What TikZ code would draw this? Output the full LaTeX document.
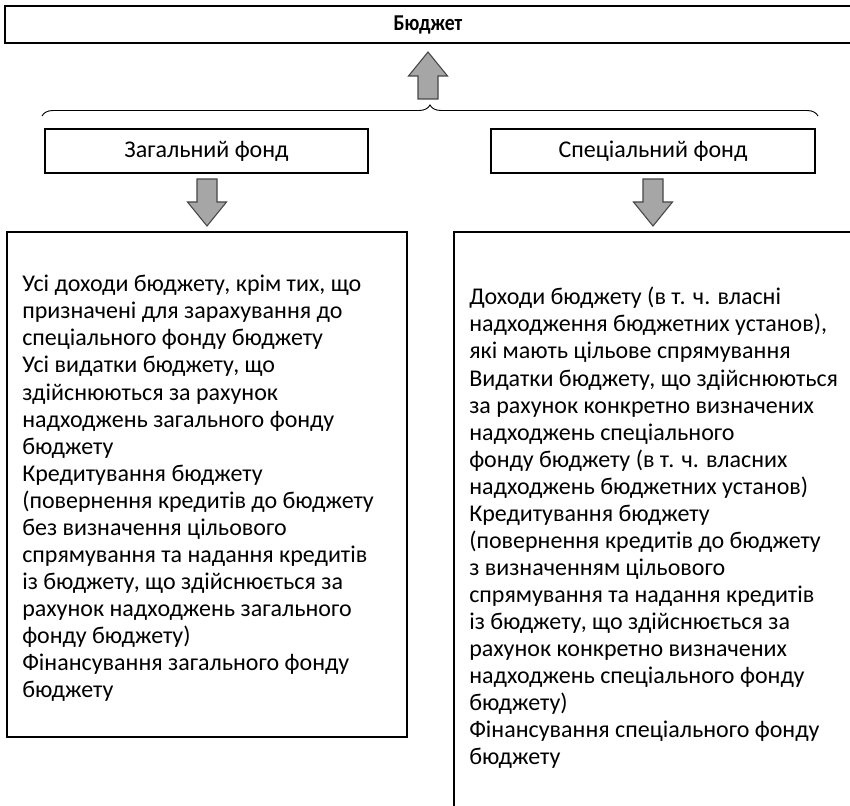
\documentclass[tikz,border=0pt]{standalone}
\usepackage{fontspec}
\setmainfont{Carlito}
\usetikzlibrary{decorations.pathreplacing}
\definecolor{arrowfill}{RGB}{166,166,166}
\definecolor{arrowline}{RGB}{70,70,70}
\begin{document}
\begin{tikzpicture}[x=0.75pt,y=-0.75pt,
  frame/.style={draw=black, line width=1.6pt, inner sep=0pt, fill=white},
  fundtext/.style={font=\fontsize{18}{20.3}\selectfont},
  bodytext/.style={anchor=north west, inner sep=0pt, align=left,
    font=\fontsize{18}{20.3}\selectfont},
  blockarrow/.pic={\draw[fill=arrowfill, draw=arrowline, line width=0.8pt, line join=miter]
    (-10,0) -- (10,0) -- (10,23) -- (19.5,23) -- (0,47) -- (-19.5,23) -- (-10,23) -- cycle;}
]
\useasboundingbox (0,0) rectangle (850,806);
\clip (0,0) rectangle (850,806);

% top level: the budget
\node[frame, minimum width=641.25pt, minimum height=27.75pt] (budget) at (432.5,24.5) {};
\node[font=\bfseries\fontsize{17}{20}\selectfont] (budgettitle) at (428,25) {\scalebox{0.87}[1]{Бюджет}};

% both funds feed the budget
\pic[rotate=180] at (428,99) {blockarrow};
\coordinate (braceL) at (42,116);
\coordinate (braceR) at (818,116);
\draw[decorate, decoration={brace, amplitude=8.25pt}, line width=0.7pt] (braceL) -- (braceR);

% the two funds
\node[frame, minimum width=242.25pt, minimum height=33pt, fundtext] (general) at (206.5,151) {Загальний фонд};
\node[frame, minimum width=243pt, minimum height=33pt, fundtext] (special) at (653,151) {Спеціальний фонд};

\pic at (207,179) {blockarrow};
\pic at (653,179) {blockarrow};

% contents of the general fund
\node[frame, minimum width=300pt, minimum height=378.75pt] (generalbox) at (207,484.5) {};
\node[bodytext] (generallist) at (22,275) {Усі доходи бюджету, крім тих, що\\
призначені для зарахування до\\
спеціального фонду бюджету\\
Усі видатки бюджету, що\\
здійснюються за рахунок\\
надходжень загального фонду\\
бюджету\\
Кредитування бюджету\\
(повернення кредитів до бюджету\\
без визначення цільового\\
спрямування та надання кредитів\\
із бюджету, що здійснюється за\\
рахунок надходжень загального\\
фонду бюджету)\\
Фінансування загального фонду\\
бюджету};

% contents of the special fund
\node[frame, minimum width=312pt, minimum height=456pt] (specialbox) at (662,536) {};
\node[bodytext] (speciallist) at (469,287) {Доходи бюджету (в т. ч. власні\\
надходження бюджетних установ),\\
які мають цільове спрямування\\
Видатки бюджету, що здійснюються\\
за рахунок конкретно визначених\\
надходжень спеціального\\
фонду бюджету (в т. ч. власних\\
надходжень бюджетних установ)\\
Кредитування бюджету\\
(повернення кредитів до бюджету\\
з визначенням цільового\\
спрямування та надання кредитів\\
із бюджету, що здійснюється за\\
рахунок конкретно визначених\\
надходжень спеціального фонду\\
бюджету)\\
Фінансування спеціального фонду\\
бюджету};
\end{tikzpicture}
\end{document}
